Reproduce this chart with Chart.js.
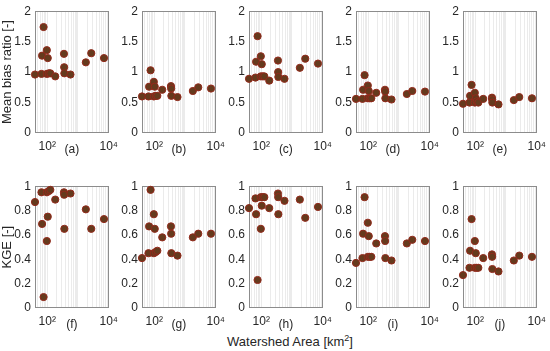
<!DOCTYPE html>
<html><head><meta charset="utf-8">
<script src="https://cdn.jsdelivr.net/npm/chart.js@4"></script>
<style>
html,body{margin:0;padding:0;background:#fff;}
#wrap{position:relative;width:550px;height:351px;overflow:hidden;font-family:"Liberation Sans",Arial,sans-serif;}
canvas{position:absolute;}
#xlab{position:absolute;left:190px;width:200px;top:334px;text-align:center;font-size:13px;line-height:15px;color:#262626;white-space:nowrap;}
#xlab sup{font-size:9px;line-height:0;}
</style></head><body>
<div id="wrap"><div id="xlab">Watershed Area [km<sup>2</sup>]</div></div>
<script>
// Watershed areas (km^2), shared by all panels
const area = [40, 65, 68, 76, 97, 104, 97, 112, 126, 182, 350, 355, 360, 570, 1800, 2700, 7000];
// Mean bias ratio, panels (a)-(e)
const biasA = [0.96, 0.97, 1.27, 1.74, 1.36, 1.23, 0.97, 0.98, 0.98, 0.93, 1.30, 1.08, 0.98, 0.96, 1.16, 1.31, 1.23];
const biasB = [0.60, 0.60, 0.76, 1.03, 0.84, 0.76, 0.60, 0.61, 0.61, 0.71, 0.77, 0.73, 0.61, 0.59, 0.69, 0.75, 0.73];
const biasC = [0.89, 0.91, 1.17, 1.59, 1.26, 1.13, 0.93, 0.93, 0.93, 0.86, 1.19, 1.00, 0.92, 0.89, 1.07, 1.22, 1.14];
const biasD = [0.56, 0.56, 0.71, 0.95, 0.78, 0.69, 0.57, 0.57, 0.57, 0.66, 0.71, 0.68, 0.57, 0.55, 0.64, 0.69, 0.68];
const biasE = [0.48, 0.50, 0.61, 0.79, 0.66, 0.57, 0.50, 0.52, 0.50, 0.56, 0.58, 0.55, 0.50, 0.47, 0.54, 0.59, 0.57];
// KGE, panels (f)-(j)
const kgeF = [0.87, 0.95, 0.69, 0.09, 0.55, 0.75, 0.95, 0.96, 0.97, 0.89, 0.95, 0.93, 0.65, 0.94, 0.81, 0.65, 0.73];
const kgeG = [0.41, 0.45, 0.67, 0.97, 0.77, 0.65, 0.45, 0.46, 0.47, 0.58, 0.67, 0.61, 0.45, 0.43, 0.58, 0.61, 0.61];
const kgeH = [0.82, 0.90, 0.77, 0.23, 0.65, 0.84, 0.91, 0.91, 0.91, 0.82, 0.94, 0.91, 0.77, 0.88, 0.89, 0.74, 0.83];
const kgeI = [0.37, 0.41, 0.61, 0.91, 0.70, 0.59, 0.42, 0.42, 0.42, 0.53, 0.59, 0.55, 0.41, 0.39, 0.53, 0.56, 0.55];
const kgeJ = [0.27, 0.33, 0.47, 0.73, 0.55, 0.45, 0.33, 0.33, 0.33, 0.41, 0.44, 0.42, 0.32, 0.30, 0.39, 0.43, 0.42];
const panelLabels = ['(a)','(b)','(c)','(d)','(e)','(f)','(g)','(h)','(i)','(j)'];
const biasTicks = [0, 0.5, 1, 1.5, 2];
const kgeTicks = [0, 0.2, 0.4, 0.6, 0.8, 1];
const yTitles = ['Mean bias ratio [-]', 'KGE [-]'];
const xMin = 40, xMax = 10000;

const panels = [biasA, biasB, biasC, biasD, biasE, kgeF, kgeG, kgeH, kgeI, kgeJ];
const FAM = '"Liberation Sans", Arial, sans-serif';
const TXT = '#262626';

const logGrid = [];
for (let e = 1; e <= 4; e++) for (let m = 1; m <= 9; m++) {
  const v = m * Math.pow(10, e);
  if (v >= xMin && v <= xMax) logGrid.push(v);
}

const framePlugin = {
  id: 'frame',
  beforeDatasetsDraw(chart) {
    const a = chart.chartArea, ctx = chart.ctx;
    ctx.save();
    ctx.strokeStyle = '#8c8c8c';
    ctx.lineWidth = 1;
    ctx.strokeRect(Math.round(a.left) + 0.5, Math.round(a.top) + 0.5,
                   Math.round(a.right - a.left) - 1, Math.round(a.bottom - a.top) - 1);
    ctx.restore();
  }
};

const wrap = document.getElementById('wrap');
const PW = 77, PH = 125, TOP = 8, XH = 30, RP = 12;
panels.forEach((vals, i) => {
  const row = Math.floor(i / 5), col = i % 5;
  const yW = col === 0 ? 35 : 28;
  const L = 35 + 107 * col;
  const T = row === 0 ? 8 : 183;
  const cv = document.createElement('canvas');
  const w = yW + PW + RP, h = TOP + PH + XH;
  cv.width = w; cv.height = h;
  cv.style.left = (L - yW) + 'px';
  cv.style.top = (T - TOP) + 'px';
  cv.style.width = w + 'px'; cv.style.height = h + 'px';
  wrap.appendChild(cv);
  const yt = row === 0 ? biasTicks : kgeTicks;
  new Chart(cv, {
    type: 'scatter',
    data: { datasets: [{
      data: area.map((x, k) => ({ x: x, y: vals[k] })),
      backgroundColor: '#653a1d',
      borderColor: '#93291b',
      borderWidth: 1,
      pointRadius: 3.6,
      pointHoverRadius: 3.6,
      clip: false
    }]},
    options: {
      responsive: false,
      animation: false,
      devicePixelRatio: 1,
      layout: { padding: { top: TOP, right: RP, left: 0, bottom: 0 } },
      plugins: { legend: { display: false }, tooltip: { enabled: false } },
      scales: {
        x: {
          type: 'logarithmic', min: xMin, max: xMax,
          afterBuildTicks: s => { s.ticks = logGrid.map(v => ({ value: v })); },
          afterFit: s => { s.height = XH; },
          ticks: {
            autoSkip: false, maxRotation: 0, minRotation: 0, padding: 6,
            font: { size: 12, family: FAM }, color: TXT,
            callback: v => (Math.abs(v - 100) < 1e-6 ? '10²' : (Math.abs(v - 10000) < 1e-6 ? '10⁴' : ''))
          },
          grid: { color: 'rgba(0,0,0,0.08)', drawTicks: false, lineWidth: 1 },
          border: { display: false },
          title: { display: true, text: panelLabels[i], color: TXT,
                   font: { size: 12, family: FAM }, padding: { top: 0, bottom: 6 } }
        },
        y: {
          min: 0, max: yt[yt.length - 1],
          afterBuildTicks: s => { s.ticks = yt.map(v => ({ value: v })); },
          afterFit: s => { s.width = yW; },
          ticks: { padding: 4, font: { size: 12, family: FAM }, color: TXT, callback: v => String(v) },
          grid: { display: false, drawTicks: false },
          border: { display: false },
          title: { display: col === 0, text: yTitles[row], color: TXT,
                   font: { size: 13, family: FAM }, padding: { top: 0, bottom: 0 } }
        }
      }
    },
    plugins: [framePlugin]
  });
});
</script>
</body></html>
